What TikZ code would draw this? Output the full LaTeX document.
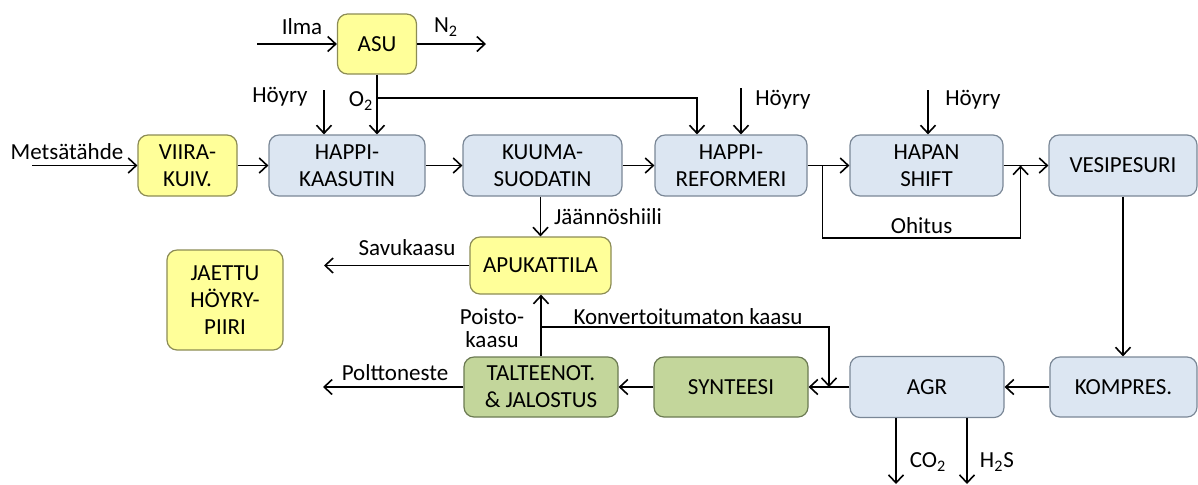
\documentclass[tikz,border=0pt]{standalone}
\usepackage{fontspec}
\setmainfont{Carlito}
\usetikzlibrary{arrows.meta, positioning, calc}
\definecolor{pBlue}{HTML}{DCE6F2}
\definecolor{pBlueEdge}{HTML}{7A8796}
\definecolor{pYellow}{HTML}{FFFF99}
\definecolor{pYellowEdge}{HTML}{8C8C55}
\definecolor{pGreen}{HTML}{C3D69B}
\definecolor{pGreenEdge}{HTML}{6B7A52}
\tikzset{
  unit/.style={draw, rounded corners=5pt, align=center, inner sep=1pt,
               line width=0.6pt, minimum height=30.5pt,
               font=\fontsize{11.5}{13.5}\selectfont},
  bunit/.style={unit, fill=pBlue, draw=pBlueEdge},
  yunit/.style={unit, fill=pYellow, draw=pYellowEdge},
  gunit/.style={unit, fill=pGreen, draw=pGreenEdge},
  flow/.style={line width=0.8pt, -{Straight Barb[length=4pt, width=7.5pt]}},
  lbl/.style={inner sep=1pt, align=center, font=\fontsize{11.5}{11.5}\selectfont},
}

\begin{document}
\begin{tikzpicture}[x=0.5pt, y=-0.5pt]
    \useasboundingbox (0,0) rectangle (1198,484);
    % top row
    \node[yunit, minimum width=39.5pt, minimum height=30pt] (asu) at (377,44) {ASU};
    \node[yunit, minimum width=49.5pt] (viira) at (187.5,165.5) {VIIRA-\\KUIV.};
    \node[bunit, minimum width=78pt] (kaasutin) at (347,165.5) {HAPPI-\\KAASUTIN};
    \node[bunit, minimum width=79.5pt] (kuuma) at (542.5,165.5) {KUUMA-\\SUODATIN};
    \node[bunit, minimum width=76pt] (reformeri) at (731,165.5) {HAPPI-\\REFORMERI};
    \node[bunit, minimum width=76.5pt] (shift) at (926.5,165.5) {HAPAN\\SHIFT};
    \node[bunit, minimum width=74pt] (pesuri) at (1123,165.5) {VESIPESURI};
    % middle
    \node[yunit, minimum width=70.5pt, minimum height=28.5pt] (kattila) at (540.5,265.5) {APUKATTILA};
    \node[yunit, minimum width=58pt, minimum height=50pt] (piiri) at (225,300) {JAETTU\\HÖYRY-\\PIIRI};
    % bottom row
    \node[gunit, minimum width=77pt, minimum height=30pt] (talteenotto) at (541,387) {TALTEENOT.\\\& JALOSTUS};
    \node[gunit, minimum width=77pt, minimum height=30pt] (synteesi) at (731,387) {SYNTEESI};
    \node[bunit, minimum width=77pt] (agr) at (927,387) {AGR};
    \node[bunit, minimum width=73.5pt, minimum height=30pt] (kompres) at (1123.5,387) {KOMPRES.};
    % free ends
    \coordinate (ilma) at (257,44);
    \coordinate (typpi) at (486,44);
    \coordinate (metsa) at (32,165.5);
    \coordinate (hoyry1) at (324,90);
    \coordinate (hoyry2) at (741,88);
    \coordinate (hoyry3) at (928,90);
    \coordinate (o2split) at (377,98);
    \coordinate (o2in) at ([xshift=-17pt]reformeri.north);
    \coordinate (ohitusA) at ([xshift=7.5pt]reformeri.east);
    \coordinate (ohitusB) at ([xshift=8.5pt]shift.east);
    \coordinate (savu) at (324,265.5);
    \coordinate (poltto) at (323,387);
    \coordinate (konv) at (541,327);
    \coordinate (konvin) at ($(synteesi.east)!0.5!(agr.west)$);
    \coordinate (co2) at (896,484);
    \coordinate (h2s) at (967,484);
    % gas and feed lines
    \draw[flow] (ilma) -- (asu.west);
    \draw[flow] (asu.east) -- (typpi);
    \draw[flow] (asu.south) -- (asu.south |- kaasutin.north);
    \draw[flow] (o2split) -| (o2in);
    \draw[flow] (hoyry1) -- (hoyry1 |- kaasutin.north);
    \draw[flow] (hoyry2) -- (hoyry2 |- reformeri.north);
    \draw[flow] (hoyry3) -- (hoyry3 |- shift.north);
    \draw[flow] (metsa) -- (viira.west);
    \draw[flow] (viira) -- (kaasutin);
    \draw[flow] (kaasutin) -- (kuuma);
    \draw[flow] (kuuma) -- (reformeri);
    \draw[flow] (reformeri) -- (shift);
    \draw[flow] (shift) -- (pesuri);
    \draw[flow] (ohitusA) -- ++(0,72.5) -| node[lbl, pos=0.25, above=1pt] {Ohitus} (ohitusB);
    \draw[flow] (pesuri.south) -- (pesuri.south |- kompres.north);
    \draw[flow] (kompres) -- (agr);
    \draw[flow] (agr) -- (synteesi);
    \draw[flow] (synteesi) -- (talteenotto);
    \draw[flow] (talteenotto.west) -- (poltto);
    \draw[flow] (kattila.north |- kuuma.south) -- (kattila.north);
    \draw[flow] (talteenotto.north) -- (talteenotto.north |- kattila.south);
    \draw[flow] (konv) -| (konvin);
    \draw[flow] (kattila.west) -- (savu);
    \draw[flow] (co2 |- agr.south) -- (co2);
    \draw[flow] (h2s |- agr.south) -- (h2s);
    % labels
    \node[lbl] at (302,27) {Ilma};
    \node[lbl] at (446,27) {N\textsubscript{2}};
    \node[lbl] at (280,97) {Höyry};
    \node[lbl] at (361,101) {O\textsubscript{2}};
    \node[lbl] at (783,100) {Höyry};
    \node[lbl] at (973,100) {Höyry};
    \node[lbl] at (67,152) {Metsätähde};
    \node[lbl] at (608,217) {Jäännöshiili};
    \node[lbl] at (407,248) {Savukaasu};
    \node[lbl] at (492,328) {Poisto-\\kaasu};
    \node[lbl] at (688,317) {Konvertoitumaton kaasu};
    \node[lbl] at (395,373) {Polttoneste};
    \node[lbl] at (928,462) {CO\textsubscript{2}};
    \node[lbl] at (997,462) {H\textsubscript{2}S};
\end{tikzpicture}
\end{document}
